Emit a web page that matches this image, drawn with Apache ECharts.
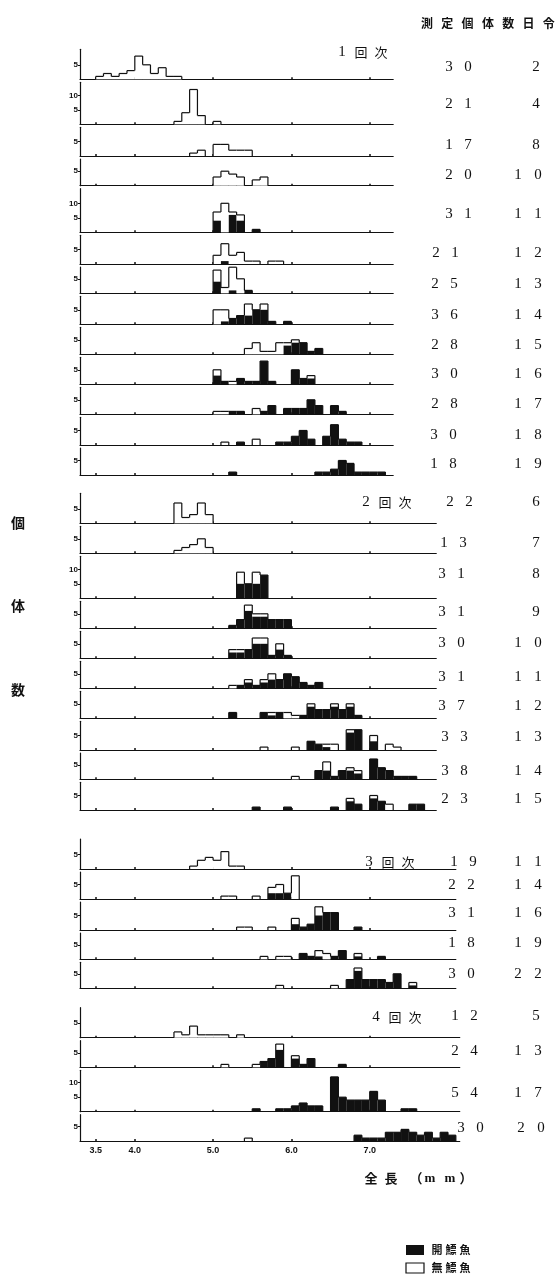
<!DOCTYPE html>
<html><head><meta charset="utf-8">
<script src="https://cdn.jsdelivr.net/npm/echarts@6/dist/echarts.min.js"></script>
<style>html,body{margin:0;padding:0;background:#fff}#c{width:560px;height:1283px}</style>
</head><body><div id="c"></div>
<script>
// ---------- DATA ----------
// Each bin: [length bin start (mm), 開鰾魚 count, 無鰾魚 count]
const xTickValues = [3.5, 4.0, 5.0, 6.0, 7.0];

const g1Days = [2, 4, 8, 10, 11, 12, 13, 14, 15, 16, 17, 18, 19];
const g1N    = [30, 21, 17, 20, 31, 21, 25, 36, 28, 30, 28, 30, 18];
const g2Days = [6, 7, 8, 9, 10, 11, 12, 13, 14, 15];
const g2N    = [22, 13, 31, 31, 30, 31, 37, 33, 38, 23];
const g3Days = [11, 14, 16, 19, 22];
const g3N    = [19, 22, 31, 18, 30];
const g4Days = [5, 13, 17, 20];
const g4N    = [12, 24, 54, 30];

const g1_d02 = [[3.5,0,1],[3.6,0,2],[3.7,0,1],[3.8,0,2],[3.9,0,3],[4.0,0,8],[4.1,0,5],[4.2,0,2],[4.3,0,4],[4.4,0,1],[4.5,0,1]];
const g1_d04 = [[4.5,0,1],[4.6,0,4],[4.7,0,12],[4.8,0,3],[5.0,0,1]];
const g1_d08 = [[4.7,0,1],[4.8,0,2],[5.0,0,4],[5.1,0,4],[5.2,0,2],[5.3,0,2],[5.4,0,2]];
const g1_d10 = [[5.0,0,3],[5.1,0,5],[5.2,0,4],[5.3,0,3],[5.5,0,2],[5.6,0,3]];
const g1_d11 = [[5.0,4,3],[5.1,0,10],[5.2,6,1],[5.3,4,2],[5.5,1,0]];
const g1_d12 = [[5.0,0,3],[5.1,1,6],[5.2,0,3],[5.3,0,4],[5.4,0,1],[5.5,0,1],[5.7,0,1],[5.8,0,1]];
const g1_d13 = [[5.0,4,4],[5.1,0,2],[5.2,1,8],[5.3,0,5],[5.4,1,0]];
const g1_d14 = [[5.0,0,5],[5.1,1,4],[5.2,2,0],[5.3,3,0],[5.4,3,4],[5.5,5,0],[5.6,5,2],[5.7,1,0],[5.9,1,0]];
const g1_d15 = [[5.4,0,2],[5.5,0,4],[5.6,0,1],[5.7,0,1],[5.8,0,4],[5.9,3,1],[6.0,4,1],[6.1,4,0],[6.2,1,0],[6.3,2,0]];
const g1_d16 = [[5.0,3,2],[5.1,1,0],[5.2,0,1],[5.3,2,0],[5.4,1,0],[5.5,1,0],[5.6,8,0],[5.7,1,0],[6.0,5,0],[6.1,2,0],[6.2,2,1]];
const g1_d17 = [[5.0,0,1],[5.1,0,1],[5.2,1,0],[5.3,1,0],[5.5,0,2],[5.6,1,0],[5.7,3,0],[5.9,2,0],[6.0,2,0],[6.1,2,0],[6.2,5,0],[6.3,3,0],[6.5,3,0],[6.6,1,0]];
const g1_d18 = [[5.1,0,1],[5.3,1,0],[5.5,0,2],[5.8,1,0],[5.9,1,0],[6.0,3,0],[6.1,5,0],[6.2,2,0],[6.4,3,0],[6.5,7,0],[6.6,2,0],[6.7,1,0],[6.8,1,0]];
const g1_d19 = [[5.2,1,0],[6.3,1,0],[6.4,1,0],[6.5,2,0],[6.6,5,0],[6.7,4,0],[6.8,1,0],[6.9,1,0],[7.0,1,0],[7.1,1,0]];

const g2_d06 = [[4.5,0,7],[4.6,0,2],[4.7,0,3],[4.8,0,7],[4.9,0,3]];
const g2_d07 = [[4.5,0,1],[4.6,0,2],[4.7,0,3],[4.8,0,5],[4.9,0,2]];
const g2_d08 = [[5.3,5,4],[5.4,5,0],[5.5,5,4],[5.6,8,0]];
const g2_d09 = [[5.2,1,0],[5.3,3,0],[5.4,6,2],[5.5,4,1],[5.6,4,1],[5.7,3,0],[5.8,3,0],[5.9,3,0]];
const g2_d10 = [[5.2,2,1],[5.3,2,1],[5.4,3,0],[5.5,5,2],[5.6,5,2],[5.7,1,0],[5.8,3,2],[5.9,1,0]];
const g2_d11 = [[5.2,0,1],[5.3,1,0],[5.4,2,1],[5.5,1,0],[5.6,2,1],[5.7,3,2],[5.8,3,0],[5.9,5,0],[6.0,4,0],[6.1,2,0],[6.2,1,0],[6.3,2,0]];
const g2_d12 = [[5.2,2,0],[5.6,2,0],[5.7,1,1],[5.8,2,0],[5.9,0,2],[6.0,0,1],[6.1,1,0],[6.2,4,1],[6.3,3,0],[6.4,3,0],[6.5,4,1],[6.6,3,0],[6.7,4,1],[6.8,1,0]];
const g2_d13 = [[5.6,0,1],[6.0,0,1],[6.2,3,0],[6.3,2,0],[6.4,1,1],[6.5,0,2],[6.7,6,1],[6.8,7,0],[7.0,3,2],[7.2,0,2],[7.3,0,1]];
const g2_d14 = [[6.0,0,1],[6.3,3,0],[6.4,3,3],[6.5,1,0],[6.6,3,0],[6.7,3,1],[6.8,2,1],[7.0,7,0],[7.1,4,0],[7.2,3,0],[7.3,1,0],[7.4,1,0],[7.5,1,0]];
const g2_d15 = [[5.5,1,0],[5.9,1,0],[6.5,1,0],[6.7,3,1],[6.8,2,0],[7.0,4,1],[7.1,3,0],[7.2,0,2],[7.5,2,0],[7.6,2,0]];

const g3_d11 = [[4.7,0,1],[4.8,0,3],[4.9,0,4],[5.0,0,3],[5.1,0,6],[5.2,0,1],[5.3,0,1]];
const g3_d14 = [[5.1,0,1],[5.2,0,1],[5.5,0,1],[5.7,2,2],[5.8,2,3],[5.9,2,0],[6.0,0,8]];
const g3_d16 = [[5.3,0,1],[5.4,0,1],[5.7,0,1],[6.0,2,2],[6.1,1,0],[6.2,2,0],[6.3,5,3],[6.4,6,0],[6.5,6,0],[6.8,1,0]];
const g3_d19 = [[5.6,0,1],[5.8,0,1],[5.9,0,1],[6.1,2,0],[6.2,1,0],[6.3,1,2],[6.4,0,2],[6.5,1,0],[6.6,3,0],[6.8,1,1],[7.1,1,0]];
const g3_d22 = [[5.8,0,1],[6.5,0,1],[6.7,3,0],[6.8,6,1],[6.9,3,0],[7.0,3,0],[7.1,3,0],[7.2,2,0],[7.3,5,0],[7.5,1,1]];

const g4_d05 = [[4.5,0,2],[4.6,0,1],[4.7,0,4],[4.8,0,1],[4.9,0,1],[5.0,0,1],[5.1,0,1],[5.3,0,1]];
const g4_d13 = [[5.1,0,1],[5.5,0,1],[5.6,2,0],[5.7,3,0],[5.8,6,2],[6.0,3,1],[6.1,1,0],[6.2,3,0],[6.6,1,0]];
const g4_d17 = [[5.5,1,0],[5.8,1,0],[5.9,1,0],[6.0,2,0],[6.1,3,0],[6.2,2,0],[6.3,2,0],[6.5,12,0],[6.6,5,0],[6.7,4,0],[6.8,4,0],[6.9,4,0],[7.0,7,0],[7.1,4,0],[7.4,1,0],[7.5,1,0]];
const g4_d20 = [[5.4,0,1],[6.8,2,0],[6.9,1,0],[7.0,1,0],[7.1,1,0],[7.2,3,0],[7.3,3,0],[7.4,4,0],[7.5,3,0],[7.6,2,0],[7.7,3,0],[7.8,1,0],[7.9,3,0],[8.0,2,0]];

// ---------- LAYOUT ----------
const groups = [
  { label: '1', days: g1Days, n: g1N, xMax: 7.3,
    panels: [g1_d02,g1_d04,g1_d08,g1_d10,g1_d11,g1_d12,g1_d13,g1_d14,g1_d15,g1_d16,g1_d17,g1_d18,g1_d19],
    labelPos: [342, 52] },
  { label: '2', days: g2Days, n: g2N, xMax: 7.85,
    panels: [g2_d06,g2_d07,g2_d08,g2_d09,g2_d10,g2_d11,g2_d12,g2_d13,g2_d14,g2_d15],
    labelPos: [366, 502] },
  { label: '3', days: g3Days, n: g3N, xMax: 8.1,
    panels: [g3_d11,g3_d14,g3_d16,g3_d19,g3_d22],
    labelPos: [369, 862] },
  { label: '4', days: g4Days, n: g4N, xMax: 8.15,
    panels: [g4_d05,g4_d13,g4_d17,g4_d20],
    labelPos: [376, 1017] }
];
const baselines = [79.3,124.3,156,185.7,232.3,264,293.3,324.3,354.3,384.3,414.3,445,475,
  523.3,553.3,598.3,628.3,658.3,688.3,718.3,750,779.3,810,
  869,899,930,959.3,988.3,
  1037.7,1067.3,1111.7,1141];
const rowDY = [-12,-20,-11,-11,-18,-11,-9,-9,-9,-10,-10,-10,-11,
  -21,-10,-24,-16,-15,-11,-12,-13,-8,-11,
  -7,-14,-17,-16,-14,
  -22,-16,-19,-13];
const nX = [449,449,449,449,449,436,435,435,435,435,435,434,434,
  450,444,442,442,442,442,442,445,445,445,
  454,452,452,452,452,
  455,455,455,461];

const X_MIN = 3.3, PX_PER_MM = 78.3, LEFT = 80, PX_PER_FISH = 2.9;
const INK = '#111';
const SERIF = '"Liberation Serif", "DejaVu Serif", serif';
const CJK = '"Noto Sans CJK JP", "Noto Sans CJK SC", sans-serif';

function makeRender(entries) {
  const tot = {};
  entries.forEach(e => { tot[Math.round(e[0] * 10)] = e[1] + e[2]; });
  return function (params, api) {
    const bin = api.value(0), b = api.value(1), w = api.value(2);
    const k = Math.round(bin * 10);
    const t = b + w;
    const tp = tot[k - 1] || 0, tn = tot[k + 1] || 0;
    const p0 = api.coord([bin, 0]), p1 = api.coord([bin + 0.1, 0]);
    const x0 = p0[0], x1 = p1[0], y0 = p0[1];
    const yb = api.coord([bin, b])[1], yt = api.coord([bin, t])[1];
    const yp = api.coord([bin, tp])[1], yn = api.coord([bin, tn])[1];
    const ls = { stroke: INK, lineWidth: 1.2, fill: null };
    const ch = [];
    if (w > 0) ch.push({ type: 'rect', shape: { x: x0, y: yt, width: x1 - x0, height: yb - yt }, style: { fill: '#fff' } });
    if (b > 0) ch.push({ type: 'rect', shape: { x: x0, y: yb, width: x1 - x0, height: y0 - yb }, style: { fill: INK } });
    ch.push({ type: 'line', shape: { x1: x0, y1: yt, x2: x1, y2: yt }, style: ls });
    if (t > tp) ch.push({ type: 'line', shape: { x1: x0, y1: yp, x2: x0, y2: yt }, style: ls });
    if (t > tn) ch.push({ type: 'line', shape: { x1: x1, y1: yn, x2: x1, y2: yt }, style: ls });
    return { type: 'group', children: ch };
  };
}

const grids = [], xAxes = [], yAxes = [], series = [], graphics = [];
function txt(s, x, y, font, align) {
  graphics.push({ type: 'text', x: x, y: y, silent: true,
    style: { text: s, font: font, fill: INK, textAlign: align || 'center', textVerticalAlign: 'middle', verticalAlign: 'middle' } });
}

let idx = 0;
const totalPanels = baselines.length;
groups.forEach((g, gi) => {
  // group label "N 回 次"
  const [lx, ly] = g.labelPos;
  txt(g.label, lx, ly, '15px ' + SERIF);
  txt('回', lx + 19, ly, '13px ' + CJK);
  txt('次', lx + 39, ly, '13px ' + CJK);
  g.panels.forEach((entries, pi) => {
    const base = baselines[idx];
    const top = pi === 0 ? base - 30 : baselines[idx - 1] + 3;
    const H = base - top;
    const tall = H > 38;
    const isLast = idx === totalPanels - 1;
    grids.push({ left: LEFT, top: top, width: (g.xMax - X_MIN) * PX_PER_MM, height: H });
    xAxes.push({
      gridIndex: idx, type: 'value', min: X_MIN, max: g.xMax,
      axisLine: { show: true, onZero: false, lineStyle: { color: INK, width: 1.2 } },
      axisTick: { show: true, customValues: xTickValues, inside: true, length: 2, lineStyle: { color: INK, width: 1.5 } },
      axisLabel: { show: isLast, customValues: xTickValues, formatter: v => v.toFixed(1),
        fontSize: 9, fontWeight: 'bold', color: INK, margin: 5, fontFamily: '"Liberation Sans", sans-serif' },
      splitLine: { show: false }
    });
    const ticks = tall ? [5, 10] : [5];
    yAxes.push({
      gridIndex: idx, type: 'value', min: 0, max: H / PX_PER_FISH,
      axisLine: { show: true, lineStyle: { color: INK, width: 1.2 } },
      axisTick: { show: true, customValues: ticks, length: 2, lineStyle: { color: INK } },
      axisLabel: { show: true, customValues: ticks, fontSize: 8, fontWeight: 'bold', color: INK, margin: 2,
        fontFamily: '"Liberation Sans", sans-serif' },
      splitLine: { show: false }
    });
    series.push({
      type: 'custom', xAxisIndex: idx, yAxisIndex: idx, coordinateSystem: 'cartesian2d',
      renderItem: makeRender(entries), data: entries, silent: true, animation: false, clip: false
    });
    // N and day columns
    const cy = base + rowDY[idx];
    const nStr = String(g.n[pi]);
    const nx = nX[idx];
    txt(nStr[0], nx, cy, '15px ' + SERIF);
    if (nStr.length > 1) txt(nStr[1], nx + 19, cy, '15px ' + SERIF);
    const dStr = String(g.days[pi]);
    const dShift = isLast ? 3 : 0;
    if (dStr.length === 1) txt(dStr, 536 + dShift, cy, '15px ' + SERIF);
    else { txt(dStr[0], 518 + dShift, cy, '15px ' + SERIF); txt(dStr[1], 538 + dShift, cy, '15px ' + SERIF); }
    idx++;
  });
});

// header 測定個体数 日令
const header = ['測', '定', '個', '体', '数', '日', '令'];
header.forEach((c, i) => txt(c, 427 + i * 20.3, 23, 'bold 12px ' + CJK));
// vertical y title 個 体 数
txt('個', 18, 523, 'bold 14px ' + CJK);
txt('体', 18, 606, 'bold 14px ' + CJK);
txt('数', 18, 690, 'bold 14px ' + CJK);
// x title 全長（mm）
txt('全', 371, 1178, 'bold 13px ' + CJK);
txt('長', 391, 1178, 'bold 13px ' + CJK);
txt('（', 416, 1178, 'bold 13px ' + CJK);
txt('m', 430, 1179, 'bold 13px ' + SERIF);
txt('m', 450, 1179, 'bold 13px ' + SERIF);
txt('）', 466, 1178, 'bold 13px ' + CJK);
// legend
graphics.push({ type: 'rect', shape: { x: 406, y: 1245, width: 18, height: 10 }, style: { fill: INK } });
graphics.push({ type: 'rect', shape: { x: 406, y: 1263, width: 18, height: 10 }, style: { fill: '#fff', stroke: INK, lineWidth: 1.2 } });
['開', '鰾', '魚'].forEach((c, i) => txt(c, 437 + i * 14, 1250, 'bold 11px ' + CJK));
['無', '鰾', '魚'].forEach((c, i) => txt(c, 437 + i * 14, 1268, 'bold 11px ' + CJK));

const chart = echarts.init(document.getElementById('c'), null, { renderer: 'canvas' });
chart.setOption({
  animation: false,
  backgroundColor: '#fff',
  grid: grids, xAxis: xAxes, yAxis: yAxes, series: series,
  graphic: graphics
});
</script>
</body></html>
